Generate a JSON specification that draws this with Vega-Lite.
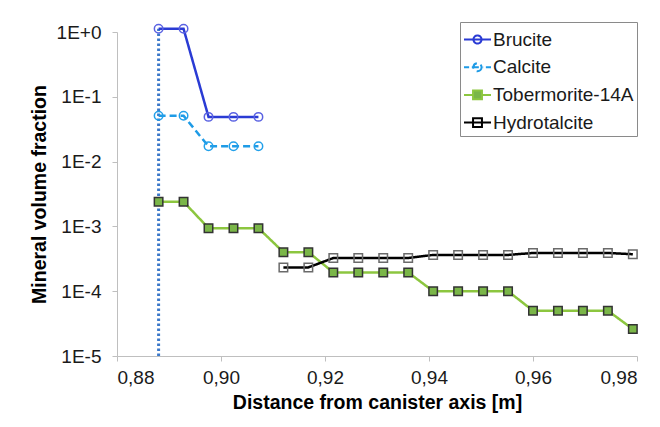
{
  "$schema": "https://vega.github.io/schema/vega-lite/v6.json",
  "width": 520,
  "height": 324,
  "autosize": {"type": "none"},
  "padding": {"left": 117, "top": 32, "right": 23, "bottom": 71},
  "background": "white",
  "config": {
    "view": {"stroke": null},
    "font": "Liberation Sans",
    "axis": {"grid": false, "domainColor": "#bfbfbf", "tickColor": "#bfbfbf", "tickSize": 5, "labelFontSize": 19, "labelColor": "#1a1a1a", "titleFontSize": 19.5, "titleFontWeight": "bold", "titleColor": "#000000", "labelFont": "Liberation Sans", "titleFont": "Liberation Sans"}
  },
  "datasets": {
    "minerals": [
      {"series": "Brucite", "x": 0.888, "y": 1.12},
      {"series": "Brucite", "x": 0.8928, "y": 1.12},
      {"series": "Brucite", "x": 0.8976, "y": 0.049},
      {"series": "Brucite", "x": 0.9024, "y": 0.049},
      {"series": "Brucite", "x": 0.9072, "y": 0.049},
      {"series": "Calcite", "x": 0.888, "y": 0.051},
      {"series": "Calcite", "x": 0.8928, "y": 0.051},
      {"series": "Calcite", "x": 0.8976, "y": 0.0172},
      {"series": "Calcite", "x": 0.9024, "y": 0.0172},
      {"series": "Calcite", "x": 0.9072, "y": 0.0172},
      {"series": "Tobermorite-14A", "x": 0.888, "y": 0.0024},
      {"series": "Tobermorite-14A", "x": 0.8928, "y": 0.0024},
      {"series": "Tobermorite-14A", "x": 0.8976, "y": 0.00094},
      {"series": "Tobermorite-14A", "x": 0.9024, "y": 0.00094},
      {"series": "Tobermorite-14A", "x": 0.9072, "y": 0.00094},
      {"series": "Tobermorite-14A", "x": 0.912, "y": 0.0004},
      {"series": "Tobermorite-14A", "x": 0.9168, "y": 0.0004},
      {"series": "Tobermorite-14A", "x": 0.9216, "y": 0.000195},
      {"series": "Tobermorite-14A", "x": 0.9264, "y": 0.000195},
      {"series": "Tobermorite-14A", "x": 0.9312, "y": 0.000195},
      {"series": "Tobermorite-14A", "x": 0.936, "y": 0.000195},
      {"series": "Tobermorite-14A", "x": 0.9408, "y": 0.0001},
      {"series": "Tobermorite-14A", "x": 0.9456, "y": 0.0001},
      {"series": "Tobermorite-14A", "x": 0.9504, "y": 0.0001},
      {"series": "Tobermorite-14A", "x": 0.9552, "y": 0.0001},
      {"series": "Tobermorite-14A", "x": 0.96, "y": 0.00005},
      {"series": "Tobermorite-14A", "x": 0.9648, "y": 0.00005},
      {"series": "Tobermorite-14A", "x": 0.9696, "y": 0.00005},
      {"series": "Tobermorite-14A", "x": 0.9744, "y": 0.00005},
      {"series": "Tobermorite-14A", "x": 0.9792, "y": 0.000026},
      {"series": "Hydrotalcite", "x": 0.912, "y": 0.000233},
      {"series": "Hydrotalcite", "x": 0.9168, "y": 0.000233},
      {"series": "Hydrotalcite", "x": 0.9216, "y": 0.000325},
      {"series": "Hydrotalcite", "x": 0.9264, "y": 0.000325},
      {"series": "Hydrotalcite", "x": 0.9312, "y": 0.000325},
      {"series": "Hydrotalcite", "x": 0.936, "y": 0.000325},
      {"series": "Hydrotalcite", "x": 0.9408, "y": 0.000363},
      {"series": "Hydrotalcite", "x": 0.9456, "y": 0.000363},
      {"series": "Hydrotalcite", "x": 0.9504, "y": 0.000363},
      {"series": "Hydrotalcite", "x": 0.9552, "y": 0.000363},
      {"series": "Hydrotalcite", "x": 0.96, "y": 0.000389},
      {"series": "Hydrotalcite", "x": 0.9648, "y": 0.000389},
      {"series": "Hydrotalcite", "x": 0.9696, "y": 0.000389},
      {"series": "Hydrotalcite", "x": 0.9744, "y": 0.000389},
      {"series": "Hydrotalcite", "x": 0.9792, "y": 0.000372}
    ],
    "boundary": [
      {"x": 0.888, "y": 0.00001, "y2": 1.12}
    ]
  },
  "layer": [
    {
      "data": {"name": "boundary"},
      "mark": {"type": "rule", "color": "#3b78c9", "strokeWidth": 3, "strokeDash": [2.5, 2.5]},
      "encoding": {
        "x": {"field": "x", "type": "quantitative"},
        "y": {"field": "y", "type": "quantitative"},
        "y2": {"field": "y2"}
      }
    },
    {
      "data": {"name": "minerals"},
      "mark": {"type": "line", "strokeWidth": 2.5},
      "encoding": {
        "x": {
          "field": "x", "type": "quantitative",
          "scale": {"domain": [0.88, 0.98], "nice": false, "zero": false},
          "axis": {
            "title": "Distance from canister axis [m]",
            "values": [0.88, 0.9, 0.92, 0.94, 0.96, 0.98],
            "labelExpr": "replace(format(datum.value, '.2f'), '.', ',')",
            "labelPadding": 7,
            "titlePadding": 6
          }
        },
        "y": {
          "field": "y", "type": "quantitative",
          "scale": {"type": "log", "domain": [0.00001, 1], "nice": false},
          "axis": {
            "title": "Mineral volume fraction",
            "values": [0.00001, 0.0001, 0.001, 0.01, 0.1, 1],
            "labelExpr": "datum.value >= 0.99 ? '1E+0' : '1E-' + round(-log(datum.value) / LN10)",
            "labelPadding": 11,
            "titlePadding": 7
          }
        },
        "color": {
          "field": "series", "type": "nominal",
          "scale": {"domain": ["Brucite", "Calcite", "Tobermorite-14A", "Hydrotalcite"], "range": ["#2a3bd4", "#1e9be6", "#8cc63f", "#000000"]},
          "legend": {
            "title": null,
            "orient": "none",
            "legendX": 343,
            "legendY": -10,
            "padding": 3,
            "strokeColor": "#8a8a8a",
            "fillColor": "white",
            "cornerRadius": 0,
            "labelFontSize": 19,
            "labelColor": "#1a1a1a",
            "labelFont": "Liberation Sans",
            "symbolSize": 729,
            "rowPadding": 2.7,
            "labelOffset": 1,
            "encoding": {
              "symbols": {
                "shape": {"value": {"signal": "datum.value == 'Brucite' ? 'M-1,0L1,0M0.3,0A0.3,0.3,0,1,1,-0.3,0A0.3,0.3,0,1,1,0.3,0' : datum.value == 'Calcite' ? 'M-1,0L-0.62,0M-0.42,0L0.42,0M0.62,0L1,0M0.3,0A0.3,0.3,0,1,1,-0.3,0A0.3,0.3,0,1,1,0.3,0' : datum.value == 'Tobermorite-14A' ? 'M-1,0L-0.33,0M0.33,0L1,0M-0.33,-0.33L0.33,-0.33L0.33,0.33L-0.33,0.33Z' : 'M-1,0L1,0M-0.33,-0.33L0.33,-0.33L0.33,0.33L-0.33,0.33Z'"}},
                "fill": {"value": {"signal": "datum.value == 'Tobermorite-14A' ? '#7ab648' : 'transparent'"}},
                "stroke": {"value": {"signal": "datum.value == 'Brucite' ? '#2a3bd4' : datum.value == 'Calcite' ? '#1e9be6' : datum.value == 'Tobermorite-14A' ? '#6a9a3a' : '#000000'"}},
                "strokeWidth": {"value": 2},
                "strokeDash": {"value": [1, 0]},
                "opacity": {"value": 1}
              }
            }
          }
        },
        "strokeDash": {
          "field": "series", "type": "nominal",
          "scale": {"domain": ["Brucite", "Calcite", "Tobermorite-14A", "Hydrotalcite"], "range": [[1, 0], [7, 4], [1, 0], [1, 0]]},
          "legend": null
        },
        "order": {"field": "x", "type": "quantitative"}
      }
    },
    {
      "data": {"name": "minerals"},
      "transform": [{"filter": "datum.series == 'Brucite' || datum.series == 'Calcite'"}],
      "mark": {"type": "point", "shape": "circle", "size": 72, "strokeWidth": 1.5, "opacity": 1, "fill": "transparent"},
      "encoding": {
        "x": {"field": "x", "type": "quantitative"},
        "y": {"field": "y", "type": "quantitative"},
        "stroke": {
          "field": "series", "type": "nominal",
          "scale": {"domain": ["Brucite", "Calcite", "Tobermorite-14A", "Hydrotalcite"], "range": ["#5a62e2", "#22a0ea", "#333333", "#6a6a6a"]},
          "legend": null
        }
      }
    },
    {
      "data": {"name": "minerals"},
      "transform": [{"filter": "datum.series == 'Tobermorite-14A' || datum.series == 'Hydrotalcite'"}],
      "mark": {"type": "point", "shape": "square", "size": 72, "strokeWidth": 1.5, "opacity": 1},
      "encoding": {
        "x": {"field": "x", "type": "quantitative"},
        "y": {"field": "y", "type": "quantitative"},
        "fill": {
          "field": "series", "type": "nominal",
          "scale": {"domain": ["Brucite", "Calcite", "Tobermorite-14A", "Hydrotalcite"], "range": ["transparent", "transparent", "#7ab648", "transparent"]},
          "legend": null
        },
        "stroke": {
          "field": "series", "type": "nominal",
          "legend": null
        }
      }
    }
  ]
}
